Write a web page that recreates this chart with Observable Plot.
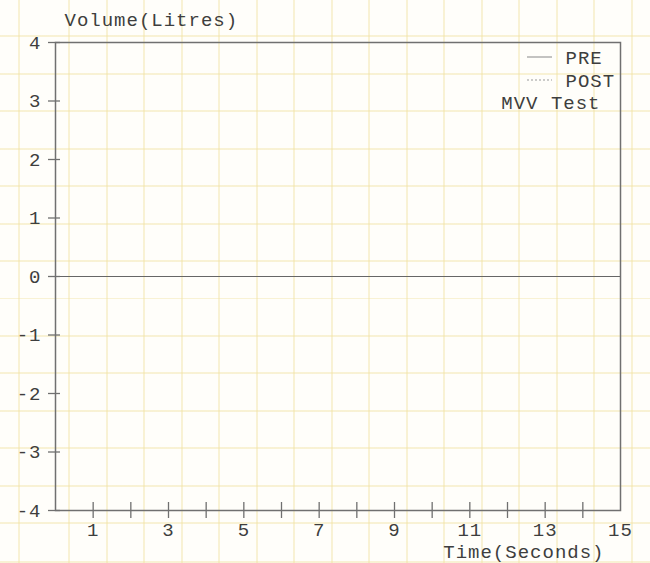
<!DOCTYPE html>
<html>
<head>
<meta charset="utf-8">
<script src="https://cdn.jsdelivr.net/npm/d3@7"></script>
<script src="https://cdn.jsdelivr.net/npm/@observablehq/plot@0.6"></script>
<style>
  html, body { margin: 0; padding: 0; }
  body {
    width: 650px; height: 563px; overflow: hidden;
    background-color: #fffefa;
    background-image:
      repeating-linear-gradient(90deg, transparent 0px, transparent 35.5px, rgba(240,226,160,0.42) 35.5px, rgba(240,226,160,0.42) 37.5px),
      repeating-linear-gradient(0deg, transparent 0px, transparent 35.5px, rgba(240,226,160,0.42) 35.5px, rgba(240,226,160,0.42) 37.5px);
    background-position: 33px 0px, 0px -3px;
  }
  #chart svg { display: block; background: transparent !important; }
  #chart svg text { letter-spacing: 1px; }
</style>
</head>
<body>
<div id="chart"></div>
<script>
// Axis extents and ticks
const xDomain = [0, 15];
const yDomain = [-4, 4];
const xLabelTicks = [1, 3, 5, 7, 9, 11, 13, 15];
const xMinorTicks = [1, 2, 3, 4, 5, 6, 7, 8, 9, 10, 11, 12, 13, 14];
const yTicks = [-4, -3, -2, -1, 0, 1, 2, 3, 4];
const legendNames = ["PRE", "POST"];
const chartTitle = "MVV Test";
const yTitle = "Volume(Litres)";
const xTitle = "Time(Seconds)";

const font = "'Liberation Mono', 'DejaVu Sans Mono', monospace";
const ink = "#3e3e3e";
const axisInk = "#707070";

const plot = Plot.plot({
  width: 650,
  height: 563,
  marginLeft: 55,
  marginRight: 30,
  marginTop: 42,
  marginBottom: 53,
  style: { fontFamily: font, background: "transparent", color: ink },
  x: { domain: xDomain },
  y: { domain: yDomain },
  marks: [
    Plot.frame({ stroke: axisInk, strokeWidth: 1.5 }),
    Plot.ruleY([0], { stroke: "#666", strokeWidth: 1.2 }),
    Plot.ruleX(xMinorTicks, { x: d => d, y1: yDomain[0], y2: yDomain[0], insetTop: -8, insetBottom: -8, stroke: axisInk, strokeWidth: 1.3 }),
    Plot.ruleY(yTicks, { y: d => d, x1: xDomain[0], x2: xDomain[0], insetLeft: -7, insetRight: -5, stroke: axisInk, strokeWidth: 1.3 }),
    Plot.axisX(xLabelTicks, { tickSize: 0, tickPadding: 12, fontSize: 19, fill: ink, label: null, tickFormat: d => String(d) }),
    Plot.axisY(yTicks, { tickSize: 0, tickPadding: 14, fontSize: 19, fill: ink, label: null, tickFormat: d => (d < 0 ? "-" + Math.abs(d) : String(d)) }),
    Plot.text([yTitle], { frameAnchor: "top-left", dx: 9, dy: -23, textAnchor: "start", lineAnchor: "middle", fontSize: 19, fill: ink }),
    Plot.text([xTitle], { frameAnchor: "bottom-right", dx: -16, dy: 41, textAnchor: "end", lineAnchor: "middle", fontSize: 19, fill: ink }),
    Plot.text(legendNames, { frameAnchor: "top-right", dx: -55, dy: 15, textAnchor: "start", lineAnchor: "middle", fontSize: 19, fill: ink, filter: (d, i) => i === 0 }),
    Plot.text(legendNames, { frameAnchor: "top-right", dx: -55, dy: 38, textAnchor: "start", lineAnchor: "middle", fontSize: 19, fill: ink, filter: (d, i) => i === 1 }),
    Plot.text([chartTitle], { frameAnchor: "top-right", dx: -20, dy: 60, textAnchor: "end", lineAnchor: "middle", fontSize: 19, fill: ink })
  ]
});

// legend swatches: solid for PRE, dashed for POST
const s = d3.select(plot);
s.append("line").attr("x1", 527).attr("x2", 552).attr("y1", 57).attr("y2", 57)
  .attr("stroke", "#888").attr("stroke-width", 1);
s.append("line").attr("x1", 527).attr("x2", 552).attr("y1", 80).attr("y2", 80)
  .attr("stroke", "#999").attr("stroke-width", 1).attr("stroke-dasharray", "2,2");

document.getElementById("chart").appendChild(plot);
</script>
</body>
</html>
